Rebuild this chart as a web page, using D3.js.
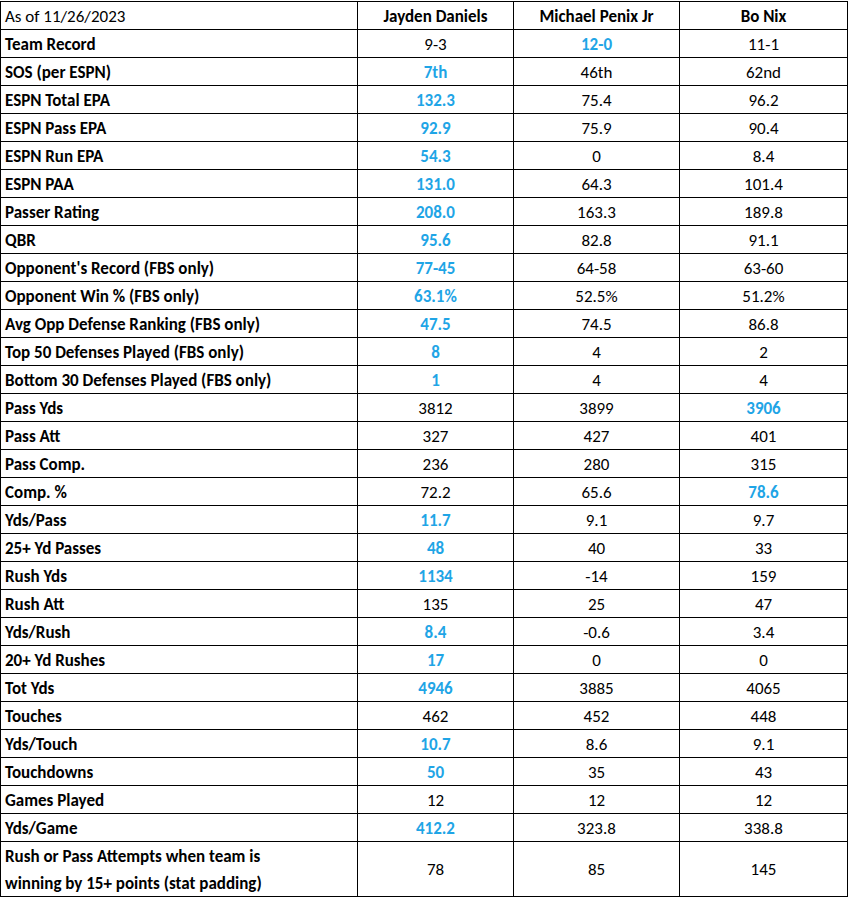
<!DOCTYPE html>
<html>
<head>
<meta charset="utf-8">
<script src="https://cdn.jsdelivr.net/npm/d3@7"></script>
<style>
  body { margin: 0; background: #fff; }
  text { font-family: Carlito, Lato, "Liberation Sans", sans-serif; font-size: 17px; }
</style>
</head>
<body>
<svg id="chart" width="848" height="897"></svg>
<script>
// Stat comparison table
const headers = ['As of 11/26/2023', 'Jayden Daniels', 'Michael Penix Jr', 'Bo Nix'];

const statLabels = [
    'Team Record', 'SOS (per ESPN)', 'ESPN Total EPA', 'ESPN Pass EPA', 'ESPN Run EPA',
    'ESPN PAA', 'Passer Rating', 'QBR', "Opponent's Record (FBS only)",
    'Opponent Win % (FBS only)', 'Avg Opp Defense Ranking (FBS only)',
    'Top 50 Defenses Played (FBS only)', 'Bottom 30 Defenses Played (FBS only)',
    'Pass Yds', 'Pass Att', 'Pass Comp.', 'Comp. %', 'Yds/Pass', '25+ Yd Passes',
    'Rush Yds', 'Rush Att', 'Yds/Rush', '20+ Yd Rushes', 'Tot Yds', 'Touches',
    'Yds/Touch', 'Touchdowns', 'Games Played', 'Yds/Game',
    'Rush or Pass Attempts when team is\nwinning by 15+ points (stat padding)'
];

const daniels = ['9-3', '7th', '132.3', '92.9', '54.3', '131.0', '208.0', '95.6', '77-45', '63.1%',
    '47.5', '8', '1', '3812', '327', '236', '72.2', '11.7', '48', '1134', '135', '8.4', '17',
    '4946', '462', '10.7', '50', '12', '412.2', '78'];
const penix = ['12-0', '46th', '75.4', '75.9', '0', '64.3', '163.3', '82.8', '64-58', '52.5%',
    '74.5', '4', '4', '3899', '427', '280', '65.6', '9.1', '40', '-14', '25', '-0.6', '0',
    '3885', '452', '8.6', '35', '12', '323.8', '85'];
const nix = ['11-1', '62nd', '96.2', '90.4', '8.4', '101.4', '189.8', '91.1', '63-60', '51.2%',
    '86.8', '2', '4', '3906', '401', '315', '78.6', '9.7', '33', '159', '47', '3.4', '0',
    '4065', '448', '9.1', '43', '12', '338.8', '145'];
// index of the highlighted (best) player per row, -1 = none
const best = [1, 0, 0, 0, 0, 0, 0, 0, 0, 0, 0, 0, 0, 2, -1, -1, 2, 0, 0, 0, -1, 0, 0, 0, -1,
    0, 0, -1, 0, -1];

const colEdges = [0.5, 357.5, 513.5, 679.5, 847.5];
const rowH = 28, tableTop = 1.5;
const rows = statLabels.map((label, i) => ({
    label, vals: [daniels[i], penix[i], nix[i]], best: best[i],
    h: label.includes('\n') ? 55 : rowH
}));
let y = tableTop + rowH;
rows.forEach(r => { r.y = y; y += r.h; });
const bottom = y;

const svg = d3.select('#chart');
const blue = '#1fa5e6';

// header
headers.forEach((h, c) => {
    svg.append('text')
        .attr('x', c === 0 ? 5 : (colEdges[c] + colEdges[c + 1]) / 2)
        .attr('y', tableTop + rowH / 2 + 6)
        .attr('text-anchor', c === 0 ? 'start' : 'middle')
        .attr('font-weight', c === 0 ? 'normal' : 'bold')
        .text(h);
});

const g = svg.selectAll('.row').data(rows).enter().append('g').attr('class', 'row');

g.each(function(d) {
    const sel = d3.select(this);
    const lines = d.label.split('\n');
    lines.forEach((ln, k) => {
        sel.append('text')
            .attr('x', 5)
            .attr('y', d.y + d.h / 2 + 6 + (k - (lines.length - 1) / 2) * 27)
            .attr('font-weight', 'bold')
            .text(ln);
    });
    d.vals.forEach((v, c) => {
        sel.append('text')
            .attr('x', (colEdges[c + 1] + colEdges[c + 2]) / 2)
            .attr('y', d.y + d.h / 2 + 6)
            .attr('text-anchor', 'middle')
            .attr('font-weight', d.best === c ? 'bold' : 'normal')
            .attr('fill', d.best === c ? blue : '#000')
            .text(v);
    });
});

// grid lines
const hLines = [tableTop, tableTop + rowH].concat(rows.map(r => r.y + r.h));
svg.selectAll('.hl').data(hLines).enter().append('line')
    .attr('x1', 0).attr('x2', 848).attr('y1', d => d).attr('y2', d => d)
    .attr('stroke', '#000').attr('stroke-width', 1);
svg.selectAll('.vl').data(colEdges).enter().append('line')
    .attr('x1', d => d).attr('x2', d => d).attr('y1', tableTop).attr('y2', bottom)
    .attr('stroke', '#000').attr('stroke-width', 1);
</script>
</body>
</html>
